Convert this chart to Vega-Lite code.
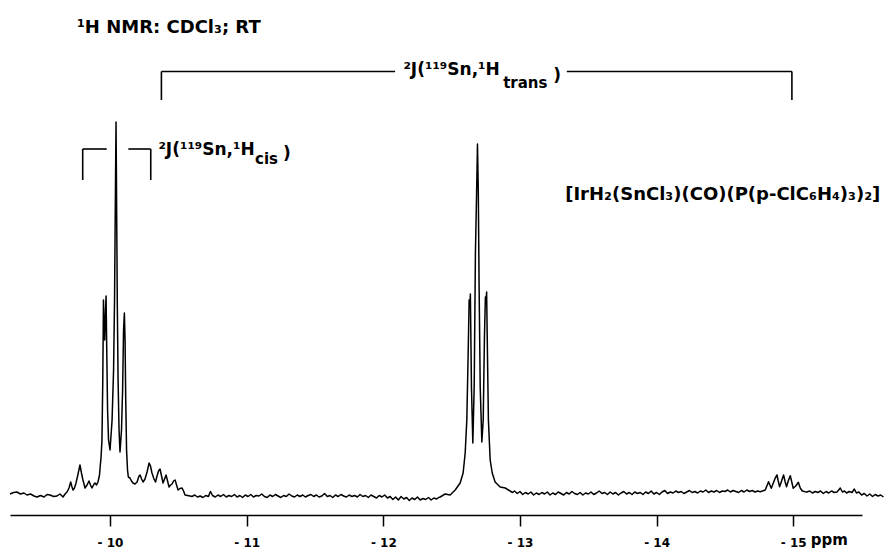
{
  "$schema": "https://vega.github.io/schema/vega-lite/v6.json",
  "width": 852,
  "height": 515,
  "autosize": "none",
  "padding": {"left": 10, "top": 0, "right": 28, "bottom": 34},
  "background": "white",
  "config": {"view": {"stroke": null}},
  "datasets": {
    "spectrum": [
      {"ppm": -9.268, "i": 0}, {"ppm": -9.294, "i": 1.5}, {"ppm": -9.319, "i": 2}, {"ppm": -9.344, "i": 0},
      {"ppm": -9.370, "i": 1}, {"ppm": -9.392, "i": -1}, {"ppm": -9.418, "i": 0}, {"ppm": -9.444, "i": -2},
      {"ppm": -9.466, "i": -3}, {"ppm": -9.491, "i": -1.5}, {"ppm": -9.517, "i": -3}, {"ppm": -9.539, "i": -0.5},
      {"ppm": -9.561, "i": -1}, {"ppm": -9.587, "i": -2.5}, {"ppm": -9.612, "i": -2}, {"ppm": -9.634, "i": 0},
      {"ppm": -9.656, "i": -3}, {"ppm": -9.671, "i": 0}, {"ppm": -9.685, "i": 2}, {"ppm": -9.700, "i": 6},
      {"ppm": -9.712, "i": 12}, {"ppm": -9.722, "i": 7}, {"ppm": -9.729, "i": 4}, {"ppm": -9.740, "i": 6},
      {"ppm": -9.751, "i": 11}, {"ppm": -9.766, "i": 20}, {"ppm": -9.780, "i": 29}, {"ppm": -9.791, "i": 21},
      {"ppm": -9.802, "i": 14}, {"ppm": -9.817, "i": 6}, {"ppm": -9.832, "i": 9}, {"ppm": -9.846, "i": 13},
      {"ppm": -9.857, "i": 9}, {"ppm": -9.868, "i": 6}, {"ppm": -9.883, "i": 10}, {"ppm": -9.890, "i": 11},
      {"ppm": -9.901, "i": 9}, {"ppm": -9.912, "i": 12}, {"ppm": -9.923, "i": 19}, {"ppm": -9.929, "i": 29},
      {"ppm": -9.934, "i": 36}, {"ppm": -9.941, "i": 54}, {"ppm": -9.947, "i": 114}, {"ppm": -9.952, "i": 194},
      {"ppm": -9.958, "i": 159}, {"ppm": -9.961, "i": 154}, {"ppm": -9.967, "i": 184}, {"ppm": -9.971, "i": 198},
      {"ppm": -9.976, "i": 144}, {"ppm": -9.982, "i": 84}, {"ppm": -9.989, "i": 54}, {"ppm": -10.000, "i": 44},
      {"ppm": -10.015, "i": 74}, {"ppm": -10.026, "i": 124}, {"ppm": -10.033, "i": 194}, {"ppm": -10.039, "i": 294},
      {"ppm": -10.044, "i": 372}, {"ppm": -10.048, "i": 294}, {"ppm": -10.053, "i": 194}, {"ppm": -10.059, "i": 114},
      {"ppm": -10.066, "i": 64}, {"ppm": -10.073, "i": 42}, {"ppm": -10.084, "i": 64}, {"ppm": -10.092, "i": 104},
      {"ppm": -10.099, "i": 164}, {"ppm": -10.105, "i": 181}, {"ppm": -10.110, "i": 154}, {"ppm": -10.115, "i": 94},
      {"ppm": -10.121, "i": 44}, {"ppm": -10.128, "i": 24}, {"ppm": -10.134, "i": 17}, {"ppm": -10.146, "i": 16},
      {"ppm": -10.157, "i": 13}, {"ppm": -10.168, "i": 11}, {"ppm": -10.183, "i": 10}, {"ppm": -10.198, "i": 12},
      {"ppm": -10.212, "i": 18}, {"ppm": -10.220, "i": 19}, {"ppm": -10.231, "i": 15}, {"ppm": -10.242, "i": 12},
      {"ppm": -10.256, "i": 15}, {"ppm": -10.271, "i": 22}, {"ppm": -10.286, "i": 31}, {"ppm": -10.296, "i": 28},
      {"ppm": -10.307, "i": 21}, {"ppm": -10.322, "i": 15}, {"ppm": -10.333, "i": 12}, {"ppm": -10.344, "i": 18},
      {"ppm": -10.355, "i": 23}, {"ppm": -10.366, "i": 25}, {"ppm": -10.377, "i": 18}, {"ppm": -10.388, "i": 11},
      {"ppm": -10.399, "i": 15}, {"ppm": -10.410, "i": 19}, {"ppm": -10.421, "i": 13}, {"ppm": -10.432, "i": 7},
      {"ppm": -10.443, "i": 9}, {"ppm": -10.454, "i": 10}, {"ppm": -10.465, "i": 13}, {"ppm": -10.476, "i": 14},
      {"ppm": -10.487, "i": 9}, {"ppm": -10.498, "i": 4}, {"ppm": -10.512, "i": 5.5}, {"ppm": -10.527, "i": 6},
      {"ppm": -10.538, "i": 3}, {"ppm": -10.549, "i": -1}, {"ppm": -10.567, "i": -1.5}, {"ppm": -10.586, "i": -2},
      {"ppm": -10.600, "i": -2.5}, {"ppm": -10.620, "i": -1}, {"ppm": -10.640, "i": -3}, {"ppm": -10.660, "i": -2},
      {"ppm": -10.680, "i": -3.5}, {"ppm": -10.700, "i": -1.5}, {"ppm": -10.720, "i": -2.5}, {"ppm": -10.735, "i": 2.5},
      {"ppm": -10.750, "i": -1.5}, {"ppm": -10.770, "i": -3}, {"ppm": -10.790, "i": -1}, {"ppm": -10.810, "i": -2.5},
      {"ppm": -10.830, "i": -0.5}, {"ppm": -10.850, "i": -3}, {"ppm": -10.870, "i": -1.5}, {"ppm": -10.890, "i": -2.5},
      {"ppm": -10.910, "i": -0.5}, {"ppm": -10.930, "i": -3}, {"ppm": -10.950, "i": -1.5}, {"ppm": -10.970, "i": -3.5},
      {"ppm": -10.990, "i": -1}, {"ppm": -11.010, "i": -2.5}, {"ppm": -11.030, "i": -0.5}, {"ppm": -11.050, "i": -3},
      {"ppm": -11.070, "i": -1.5}, {"ppm": -11.090, "i": -2}, {"ppm": -11.110, "i": 0}, {"ppm": -11.130, "i": -2.5},
      {"ppm": -11.150, "i": -3.5}, {"ppm": -11.170, "i": -1}, {"ppm": -11.190, "i": -2.5}, {"ppm": -11.210, "i": -0.5},
      {"ppm": -11.230, "i": -2}, {"ppm": -11.250, "i": -3.5}, {"ppm": -11.270, "i": -1.5}, {"ppm": -11.290, "i": -2.5},
      {"ppm": -11.310, "i": 0}, {"ppm": -11.330, "i": -2}, {"ppm": -11.350, "i": -3}, {"ppm": -11.370, "i": -1},
      {"ppm": -11.390, "i": -2.5}, {"ppm": -11.410, "i": -1}, {"ppm": -11.430, "i": -3}, {"ppm": -11.450, "i": -1.5},
      {"ppm": -11.470, "i": -0.5}, {"ppm": -11.490, "i": -2.5}, {"ppm": -11.510, "i": -1}, {"ppm": -11.530, "i": -3},
      {"ppm": -11.550, "i": -2}, {"ppm": -11.570, "i": 0.5}, {"ppm": -11.590, "i": -2.5}, {"ppm": -11.610, "i": -1.5},
      {"ppm": -11.630, "i": -3.5}, {"ppm": -11.650, "i": -1}, {"ppm": -11.670, "i": -2.5}, {"ppm": -11.690, "i": -0.5},
      {"ppm": -11.710, "i": -2}, {"ppm": -11.730, "i": -3}, {"ppm": -11.750, "i": -1}, {"ppm": -11.770, "i": -2.5},
      {"ppm": -11.790, "i": -1.5}, {"ppm": -11.810, "i": -3}, {"ppm": -11.830, "i": -0.5}, {"ppm": -11.850, "i": -2.5},
      {"ppm": -11.870, "i": -1.5}, {"ppm": -11.890, "i": -3.5}, {"ppm": -11.910, "i": -1}, {"ppm": -11.930, "i": -2.5},
      {"ppm": -11.950, "i": -4}, {"ppm": -11.970, "i": -1.5}, {"ppm": -11.990, "i": -3}, {"ppm": -12.010, "i": -1},
      {"ppm": -12.030, "i": -4}, {"ppm": -12.050, "i": -2.5}, {"ppm": -12.070, "i": -5.5}, {"ppm": -12.090, "i": -3},
      {"ppm": -12.110, "i": -6}, {"ppm": -12.130, "i": -2.5}, {"ppm": -12.150, "i": -5}, {"ppm": -12.170, "i": -3.5},
      {"ppm": -12.190, "i": -6.5}, {"ppm": -12.210, "i": -4}, {"ppm": -12.230, "i": -5.5}, {"ppm": -12.250, "i": -3},
      {"ppm": -12.270, "i": -6}, {"ppm": -12.290, "i": -4.5}, {"ppm": -12.310, "i": -5.5}, {"ppm": -12.330, "i": -3.5},
      {"ppm": -12.350, "i": -6}, {"ppm": -12.370, "i": -4}, {"ppm": -12.390, "i": -5}, {"ppm": -12.405, "i": -3.5},
      {"ppm": -12.416, "i": -3}, {"ppm": -12.452, "i": 0}, {"ppm": -12.489, "i": -1}, {"ppm": -12.526, "i": 4},
      {"ppm": -12.562, "i": 11}, {"ppm": -12.584, "i": 21}, {"ppm": -12.599, "i": 41}, {"ppm": -12.611, "i": 74},
      {"ppm": -12.621, "i": 141}, {"ppm": -12.628, "i": 194}, {"ppm": -12.633, "i": 189}, {"ppm": -12.637, "i": 200},
      {"ppm": -12.645, "i": 107}, {"ppm": -12.655, "i": 51}, {"ppm": -12.665, "i": 107}, {"ppm": -12.674, "i": 241},
      {"ppm": -12.683, "i": 304}, {"ppm": -12.689, "i": 350}, {"ppm": -12.695, "i": 304}, {"ppm": -12.701, "i": 207},
      {"ppm": -12.709, "i": 107}, {"ppm": -12.721, "i": 52}, {"ppm": -12.731, "i": 74}, {"ppm": -12.740, "i": 157},
      {"ppm": -12.747, "i": 197}, {"ppm": -12.751, "i": 192}, {"ppm": -12.756, "i": 202}, {"ppm": -12.762, "i": 141},
      {"ppm": -12.769, "i": 74}, {"ppm": -12.782, "i": 34}, {"ppm": -12.797, "i": 21}, {"ppm": -12.818, "i": 12},
      {"ppm": -12.855, "i": 7}, {"ppm": -12.892, "i": 6}, {"ppm": -12.928, "i": 3}, {"ppm": -12.945, "i": 1.5},
      {"ppm": -12.960, "i": 3}, {"ppm": -12.980, "i": 0.5}, {"ppm": -13.000, "i": 2.5}, {"ppm": -13.020, "i": -0.5},
      {"ppm": -13.040, "i": 1.5}, {"ppm": -13.060, "i": 0}, {"ppm": -13.080, "i": 2}, {"ppm": -13.100, "i": -1},
      {"ppm": -13.120, "i": 1}, {"ppm": -13.140, "i": -0.5}, {"ppm": -13.160, "i": 1.5}, {"ppm": -13.180, "i": 0},
      {"ppm": -13.200, "i": 2}, {"ppm": -13.220, "i": -1}, {"ppm": -13.240, "i": 1}, {"ppm": -13.260, "i": -0.5},
      {"ppm": -13.280, "i": 2}, {"ppm": -13.300, "i": 0.5}, {"ppm": -13.320, "i": -1}, {"ppm": -13.340, "i": 1.5},
      {"ppm": -13.360, "i": 0}, {"ppm": -13.380, "i": 2.5}, {"ppm": -13.400, "i": 0.5}, {"ppm": -13.420, "i": -0.5},
      {"ppm": -13.440, "i": 1.5}, {"ppm": -13.460, "i": -1}, {"ppm": -13.480, "i": 1}, {"ppm": -13.500, "i": 0},
      {"ppm": -13.520, "i": 2}, {"ppm": -13.540, "i": -0.5}, {"ppm": -13.560, "i": 1}, {"ppm": -13.580, "i": 3},
      {"ppm": -13.600, "i": 0.5}, {"ppm": -13.620, "i": 1.5}, {"ppm": -13.640, "i": -0.5}, {"ppm": -13.660, "i": 2},
      {"ppm": -13.680, "i": 0}, {"ppm": -13.700, "i": 1.5}, {"ppm": -13.720, "i": -1}, {"ppm": -13.740, "i": 1},
      {"ppm": -13.760, "i": 2.5}, {"ppm": -13.780, "i": 0}, {"ppm": -13.800, "i": 1.5}, {"ppm": -13.820, "i": -0.5},
      {"ppm": -13.840, "i": 2}, {"ppm": -13.860, "i": 0.5}, {"ppm": -13.880, "i": 1.5}, {"ppm": -13.900, "i": -0.5},
      {"ppm": -13.920, "i": 2}, {"ppm": -13.940, "i": 0.5}, {"ppm": -13.960, "i": 3}, {"ppm": -13.980, "i": 0},
      {"ppm": -14.000, "i": 1.5}, {"ppm": -14.020, "i": -0.5}, {"ppm": -14.040, "i": 2}, {"ppm": -14.060, "i": 3.5},
      {"ppm": -14.080, "i": 0.5}, {"ppm": -14.100, "i": 2}, {"ppm": -14.120, "i": 1}, {"ppm": -14.140, "i": 3},
      {"ppm": -14.160, "i": 1.5}, {"ppm": -14.180, "i": 2.5}, {"ppm": -14.200, "i": 0.5}, {"ppm": -14.220, "i": 2},
      {"ppm": -14.240, "i": 3.5}, {"ppm": -14.260, "i": 1.5}, {"ppm": -14.280, "i": 2.5}, {"ppm": -14.300, "i": 1},
      {"ppm": -14.320, "i": 3}, {"ppm": -14.340, "i": 2}, {"ppm": -14.360, "i": 4}, {"ppm": -14.380, "i": 1.5},
      {"ppm": -14.400, "i": 3}, {"ppm": -14.420, "i": 2}, {"ppm": -14.440, "i": 3.5}, {"ppm": -14.460, "i": 1.5},
      {"ppm": -14.480, "i": 3}, {"ppm": -14.500, "i": 2.5}, {"ppm": -14.520, "i": 4}, {"ppm": -14.540, "i": 2},
      {"ppm": -14.560, "i": 3.5}, {"ppm": -14.580, "i": 2.5}, {"ppm": -14.600, "i": 1.5}, {"ppm": -14.620, "i": 3.5},
      {"ppm": -14.640, "i": 2}, {"ppm": -14.660, "i": 4}, {"ppm": -14.680, "i": 2.5}, {"ppm": -14.700, "i": 3.5},
      {"ppm": -14.720, "i": 2}, {"ppm": -14.740, "i": 3}, {"ppm": -14.758, "i": 2.3}, {"ppm": -14.795, "i": 4},
      {"ppm": -14.819, "i": 12.3}, {"ppm": -14.839, "i": 5.7}, {"ppm": -14.854, "i": 11}, {"ppm": -14.868, "i": 16},
      {"ppm": -14.881, "i": 19}, {"ppm": -14.890, "i": 13}, {"ppm": -14.900, "i": 7.3}, {"ppm": -14.912, "i": 12},
      {"ppm": -14.929, "i": 19}, {"ppm": -14.941, "i": 12}, {"ppm": -14.951, "i": 7.3}, {"ppm": -14.963, "i": 13},
      {"ppm": -14.978, "i": 18.3}, {"ppm": -14.989, "i": 12}, {"ppm": -15.000, "i": 5.7}, {"ppm": -15.018, "i": 8},
      {"ppm": -15.037, "i": 11.7}, {"ppm": -15.051, "i": 6}, {"ppm": -15.066, "i": 3}, {"ppm": -15.088, "i": 2.3},
      {"ppm": -15.100, "i": 2}, {"ppm": -15.120, "i": 3}, {"ppm": -15.140, "i": 1}, {"ppm": -15.160, "i": 2.5},
      {"ppm": -15.180, "i": 1.5}, {"ppm": -15.200, "i": 3}, {"ppm": -15.220, "i": 0.5}, {"ppm": -15.240, "i": 2.5},
      {"ppm": -15.260, "i": 1}, {"ppm": -15.280, "i": 3}, {"ppm": -15.300, "i": 1.5}, {"ppm": -15.320, "i": 2},
      {"ppm": -15.344, "i": 6}, {"ppm": -15.360, "i": 2}, {"ppm": -15.375, "i": 3}, {"ppm": -15.390, "i": 1},
      {"ppm": -15.410, "i": 2.5}, {"ppm": -15.430, "i": 1.5}, {"ppm": -15.447, "i": 5}, {"ppm": -15.462, "i": 1},
      {"ppm": -15.480, "i": 2}, {"ppm": -15.500, "i": -1}, {"ppm": -15.520, "i": 0.5}, {"ppm": -15.540, "i": -2},
      {"ppm": -15.560, "i": 0}, {"ppm": -15.580, "i": -2.5}, {"ppm": -15.600, "i": -0.5}, {"ppm": -15.620, "i": -2},
      {"ppm": -15.640, "i": -1}, {"ppm": -15.660, "i": -3}
    ],
    "brackets": [
      {"x1": -9.800, "y1": 314, "x2": -9.800, "y2": 345},
      {"x1": -9.800, "y1": 345, "x2": -9.976, "y2": 345},
      {"x1": -10.134, "y1": 345, "x2": -10.298, "y2": 345},
      {"x1": -10.298, "y1": 345, "x2": -10.298, "y2": 314},
      {"x1": -10.376, "y1": 394, "x2": -10.376, "y2": 422.5},
      {"x1": -10.376, "y1": 422.5, "x2": -12.086, "y2": 422.5},
      {"x1": -13.343, "y1": 422.5, "x2": -14.990, "y2": 422.5},
      {"x1": -14.990, "y1": 422.5, "x2": -14.990, "y2": 394}
    ],
    "headings": [
      {"t": "¹H NMR: CDCl₃; RT", "ppm": -9.758, "i": 466},
      {"t": "[IrH₂(SnCl₃)(CO)(P(p-ClC₆H₄)₃)₂]", "ppm": -13.331, "i": 299}
    ],
    "labels": [
      {"t": "²J(¹¹⁹Sn,¹H", "ppm": -10.354, "i": 344},
      {"t": ")", "ppm": -11.266, "i": 340},
      {"t": "²J(¹¹⁹Sn,¹H", "ppm": -12.147, "i": 424.5},
      {"t": ")", "ppm": -13.243, "i": 418}
    ],
    "subs": [
      {"t": "cis", "ppm": -11.061, "i": 335.5},
      {"t": "trans", "ppm": -12.877, "i": 411}
    ],
    "unit": [
      {"t": "ppm", "ppm": -15.264, "i": -46}
    ]
  },
  "encoding": {
    "x": {
      "field": "ppm",
      "type": "quantitative",
      "scale": {"domain": [-15.503, -9.268], "reverse": true, "nice": false, "zero": false},
      "axis": {
        "values": [-10, -11, -12, -13, -14, -15],
        "labelExpr": "'- ' + abs(datum.value)",
        "title": null,
        "grid": false,
        "domainColor": "black",
        "domainWidth": 1.5,
        "tickColor": "black",
        "tickWidth": 1.5,
        "tickSize": 11,
        "labelPadding": 11,
        "labelFont": "DejaVu Sans",
        "labelFontWeight": "bold",
        "labelFontSize": 12,
        "labelColor": "black"
      }
    },
    "y": {
      "field": "i",
      "type": "quantitative",
      "scale": {"domain": [-21, 494], "nice": false, "zero": false},
      "axis": null
    }
  },
  "layer": [
    {
      "data": {"name": "spectrum"},
      "mark": {"type": "line", "color": "black", "strokeWidth": 1.5, "strokeJoin": "round"}
    },
    {
      "data": {"name": "brackets"},
      "mark": {"type": "rule", "color": "black", "strokeWidth": 1.6},
      "encoding": {
        "x": {"field": "x1", "type": "quantitative"},
        "x2": {"field": "x2"},
        "y": {"field": "y1", "type": "quantitative"},
        "y2": {"field": "y2"}
      }
    },
    {
      "data": {"name": "headings"},
      "mark": {"type": "text", "align": "left", "baseline": "middle", "font": "DejaVu Sans", "fontWeight": "bold", "fontSize": 18, "color": "black"},
      "encoding": {"text": {"field": "t"}}
    },
    {
      "data": {"name": "labels"},
      "mark": {"type": "text", "align": "left", "baseline": "middle", "font": "DejaVu Sans", "fontWeight": "bold", "fontSize": 17, "color": "black"},
      "encoding": {"text": {"field": "t"}}
    },
    {
      "data": {"name": "subs"},
      "mark": {"type": "text", "align": "left", "baseline": "middle", "font": "DejaVu Sans", "fontWeight": "bold", "fontSize": 15, "color": "black"},
      "encoding": {"text": {"field": "t"}}
    },
    {
      "data": {"name": "unit"},
      "mark": {"type": "text", "align": "center", "baseline": "middle", "font": "DejaVu Sans", "fontWeight": "bold", "fontSize": 15, "color": "black"},
      "encoding": {"text": {"field": "t"}}
    }
  ]
}
